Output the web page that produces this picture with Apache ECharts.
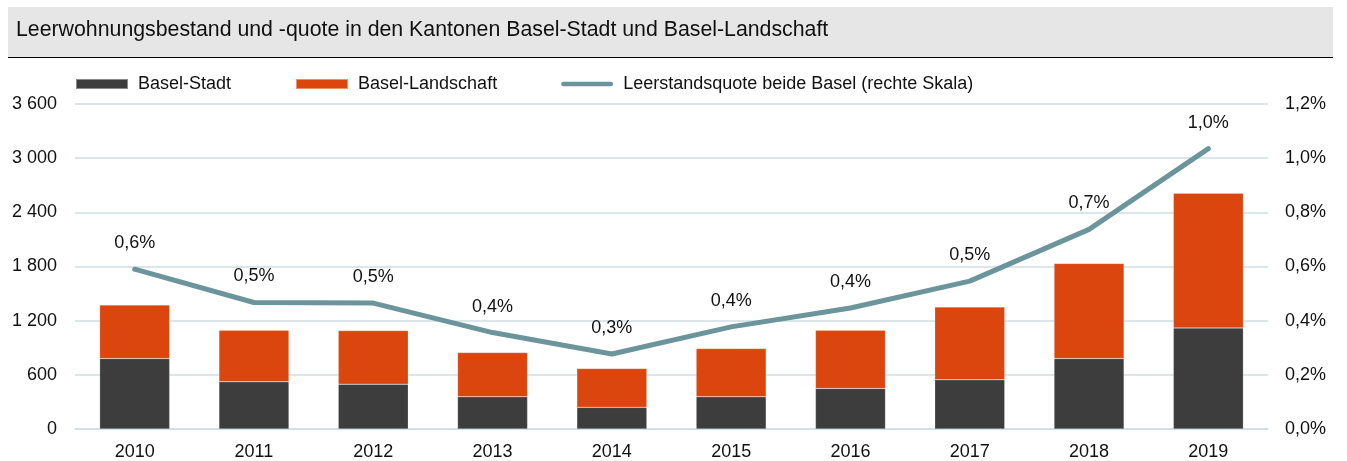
<!DOCTYPE html>
<html>
<head>
<meta charset="utf-8">
<script src="https://cdn.jsdelivr.net/npm/echarts@6/dist/echarts.min.js"></script>
<style>
  html, body { margin: 0; padding: 0; background: #fff; }
  #chart { width: 1347px; height: 461px; }
</style>
</head>
<body>
<div id="chart"></div>
<script>
// Leerwohnungen Basel-Stadt / Basel-Landschaft

var jahre = ['2010', '2011', '2012', '2013', '2014', '2015', '2016', '2017', '2018', '2019'];
var baselStadt = [781, 523, 497, 357, 240, 357, 449, 545, 781, 1120];
var baselLandschaft = [592, 571, 593, 490, 430, 534, 645, 807, 1053, 1491];
var quote = [0.59, 0.467, 0.465, 0.356, 0.277, 0.377, 0.447, 0.546, 0.737, 1.035];

var schrift = 'Liberation Sans, Arial, sans-serif';

function tausender(v) {
    return String(v).replace(/\B(?=(\d{3})+(?!\d))/g, ' ');
}
function prozent(v) {
    return v.toFixed(1).replace('.', ',') + '%';
}

var myChart = echarts.init(document.getElementById('chart'), null, { renderer: 'canvas' });

var option = {
    animation: false,
    textStyle: { fontFamily: schrift },
    graphic: [
        {
            type: 'rect',
            shape: { x: 8, y: 7, width: 1325, height: 50 },
            style: { fill: '#e6e6e6' },
            z: -10
        },
        {
            type: 'line',
            shape: { x1: 8, y1: 57.5, x2: 1333, y2: 57.5 },
            style: { stroke: '#000', lineWidth: 1.2 }
        },
        {
            type: 'text',
            left: 16,
            top: 20,
            style: {
                text: 'Leerwohnungsbestand und -quote in den Kantonen Basel-Stadt und Basel-Landschaft',
                fontSize: 21.3,
                fontFamily: schrift,
                fill: '#111'
            }
        }
    ],
    legend: {
        left: 75,
        top: 75,
        padding: 0,
        itemWidth: 52,
        itemHeight: 10,
        itemGap: 64,
        textStyle: { fontSize: 18, color: '#111', padding: [0, 0, 0, 5] },
        data: [
            { name: 'Basel-Stadt', icon: 'rect' },
            { name: 'Basel-Landschaft', icon: 'rect' },
            {
                name: 'Leerstandsquote beide Basel (rechte Skala)',
                icon: 'path://M2.5,0 H52.5 A2.5,2.5 0 0 1 52.5,5 H2.5 A2.5,2.5 0 0 1 2.5,0 Z'
            }
        ]
    },
    grid: {
        left: 75,
        right: 79,
        top: 104,
        bottom: 30,
        containLabel: false
    },
    xAxis: {
        type: 'category',
        data: jahre,
        axisTick: { show: false },
        axisLine: { lineStyle: { color: '#d0dde3', width: 1.5 } },
        axisLabel: { fontSize: 18, color: '#111', margin: 14 }
    },
    yAxis: [
        {
            type: 'value',
            min: 0,
            max: 3600,
            interval: 600,
            axisLine: { show: false },
            axisTick: { show: false },
            splitLine: { lineStyle: { color: '#d0dde3', width: 1.5 } },
            axisLabel: { fontSize: 18, color: '#111', margin: 18, formatter: tausender }
        },
        {
            type: 'value',
            min: 0,
            max: 1.2,
            interval: 0.2,
            position: 'right',
            axisLine: { show: false },
            axisTick: { show: false },
            splitLine: { show: false },
            axisLabel: { fontSize: 18, color: '#111', margin: 17, formatter: prozent }
        }
    ],
    series: [
        {
            name: 'Basel-Stadt',
            type: 'bar',
            stack: 'bestand',
            data: baselStadt,
            barWidth: 70,
            itemStyle: { color: '#3d3d3d', borderColor: 'rgba(255,255,255,0.4)', borderWidth: 0.5 }
        },
        {
            name: 'Basel-Landschaft',
            type: 'bar',
            stack: 'bestand',
            data: baselLandschaft,
            barWidth: 70,
            itemStyle: { color: '#db460f', borderColor: 'rgba(255,255,255,0.4)', borderWidth: 0.5 }
        },
        {
            name: 'Leerstandsquote beide Basel (rechte Skala)',
            type: 'line',
            yAxisIndex: 1,
            data: quote,
            symbol: 'circle',
            symbolSize: 0,
            showSymbol: true,
            lineStyle: { color: '#6b959b', width: 5, cap: 'round', join: 'round' },
            itemStyle: { color: '#6b959b' },
            label: {
                show: true,
                position: 'top',
                distance: 17,
                fontSize: 18,
                color: '#111',
                formatter: function (p) { return prozent(p.value); }
            },
            z: 5
        }
    ]
};

myChart.setOption(option);
</script>
</body>
</html>
